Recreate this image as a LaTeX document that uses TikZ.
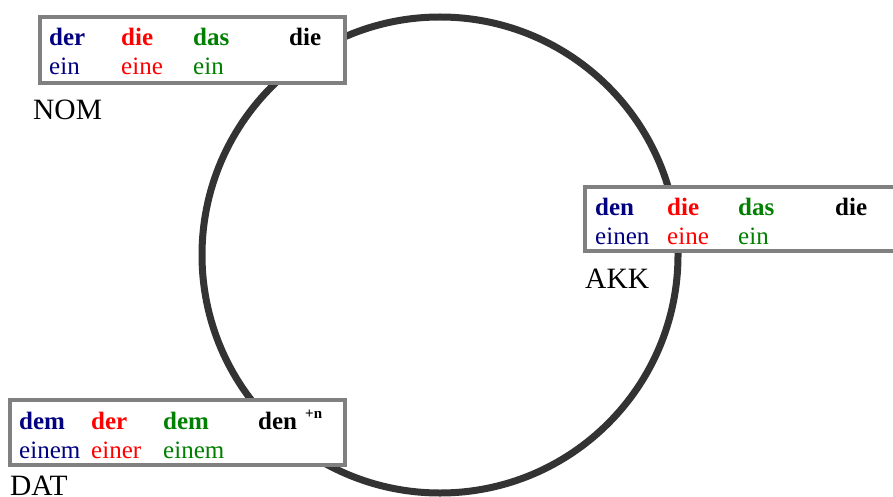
\documentclass[tikz,border=0pt]{standalone}
\usepackage{fontspec}
\setmainfont{Liberation Serif}
\definecolor{navyc}{HTML}{000080}
\definecolor{redc}{HTML}{FF0000}
\definecolor{greenc}{HTML}{008000}
\definecolor{ringc}{HTML}{333333}
\definecolor{boxc}{HTML}{808080}
\begin{document}
\begin{tikzpicture}[x=1pt,y=-1pt,
  ring/.style={draw=ringc,line width=7pt},
  casebox/.style={draw=boxc,fill=white,line width=3.5pt},
  art/.style={anchor=base west,inner sep=0pt,font=\fontsize{25}{25}\selectfont\bfseries},
  ind/.style={anchor=base west,inner sep=0pt,font=\fontsize{25}{25}\selectfont},
  lab/.style={anchor=base west,inner sep=0pt,font=\fontsize{29.5}{29.5}\selectfont},
  sup/.style={anchor=base west,inner sep=0pt,font=\fontsize{15}{15}\selectfont\bfseries}]
\useasboundingbox (0,0) rectangle (893,497);
\draw[ring] (440,255) circle[radius=238];
% NOM
\draw[casebox] (40,17) rectangle (345,83);
\node[art,text=navyc] (nm) at (49,46) {der};
\node[art,text=redc] (nf) at (121,46) {die};
\node[art,text=greenc] (nn) at (193,46) {das};
\node[art] (np) at (289,46) {die};
\node[ind,text=navyc] (nim) at (49,75) {ein};
\node[ind,text=redc] (nif) at (121,75) {eine};
\node[ind,text=greenc] (nin) at (193,75) {ein};
\node[lab] (nom) at (33,120) {NOM};
% AKK
\draw[casebox] (585,187) rectangle (898,251);
\node[art,text=navyc] (am) at (595,215) {den};
\node[art,text=redc] (af) at (667,215) {die};
\node[art,text=greenc] (an) at (738,215) {das};
\node[art] (ap) at (835,215) {die};
\node[ind,text=navyc] (aim) at (595,244) {einen};
\node[ind,text=redc] (aif) at (667,244) {eine};
\node[ind,text=greenc] (ain) at (738,244) {ein};
\node[lab] (akk) at (585,288) {AKK};
% DAT
\draw[casebox] (10,400) rectangle (345,465);
\node[art,text=navyc] (dm) at (19,429) {dem};
\node[art,text=redc] (df) at (91,429) {der};
\node[art,text=greenc] (dn) at (163,429) {dem};
\node[art] (dp) at (258,429) {den};
\node[sup] (dsup) at (305,418) {+n};
\node[ind,text=navyc] (dim) at (19,458) {einem};
\node[ind,text=redc] (dif) at (91,458) {einer};
\node[ind,text=greenc] (din) at (163,458) {einem};
\node[lab] (dat) at (10,495) {DAT};
\end{tikzpicture}
\end{document}
